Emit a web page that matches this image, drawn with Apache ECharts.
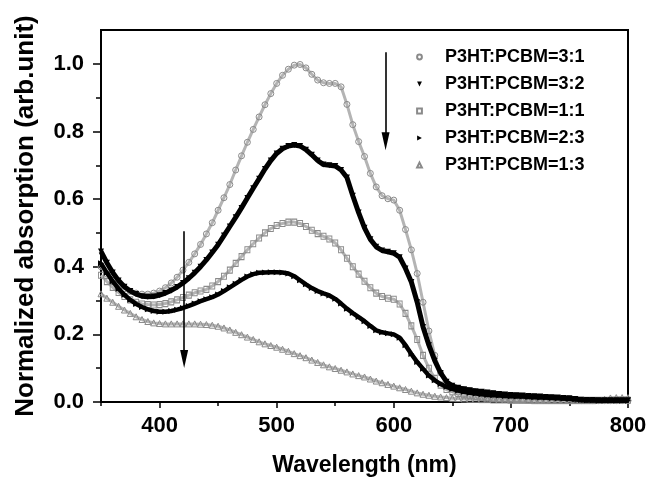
<!DOCTYPE html>
<html>
<head>
<meta charset="utf-8">
<script src="https://cdn.jsdelivr.net/npm/echarts@6/dist/echarts.min.js"></script>
<style>
html,body{margin:0;padding:0;background:#fff;}
#chart{width:651px;height:482px;}
</style>
</head>
<body>
<div id="chart"></div>
<script>
// Sampling grid of the spectra (nm)
const wavelength = Array.from({length: 91}, (_, i) => 350 + 5 * i);

const seriesNames = ['P3HT:PCBM=3:1', 'P3HT:PCBM=3:2', 'P3HT:PCBM=1:1', 'P3HT:PCBM=2:3', 'P3HT:PCBM=1:3'];

const ratio31 = [
  0.400,0.378,0.360,0.346,0.335,0.327,0.322,0.319,0.319,0.322,
  0.328,0.338,0.352,0.369,0.390,0.413,0.438,0.466,0.497,0.530,
  0.567,0.604,0.643,0.686,0.728,0.768,0.806,0.843,0.879,0.912,
  0.942,0.966,0.984,0.996,0.998,0.988,0.969,0.952,0.944,0.942,
  0.942,0.932,0.880,0.820,0.770,0.726,0.676,0.636,0.610,0.601,
  0.597,0.567,0.510,0.450,0.380,0.295,0.210,0.138,0.086,0.054,
  0.038,0.029,0.023,0.019,0.016,0.014,0.012,0.011,0.010,0.009,
  0.008,0.008,0.007,0.007,0.006,0.006,0.006,0.005,0.005,0.005,
  0.005,0.005,0.004,0.004,0.004,0.004,0.004,0.004,0.004,0.004,
  0.004];

const ratio32 = [
  0.445,0.412,0.383,0.359,0.341,0.328,0.319,0.313,0.311,0.312,
  0.316,0.322,0.330,0.340,0.352,0.366,0.382,0.400,0.420,0.442,
  0.465,0.492,0.519,0.546,0.574,0.603,0.632,0.660,0.689,0.714,
  0.735,0.749,0.757,0.760,0.757,0.746,0.731,0.714,0.702,0.700,
  0.698,0.686,0.664,0.610,0.560,0.515,0.481,0.459,0.448,0.444,
  0.440,0.428,0.395,0.355,0.295,0.222,0.168,0.122,0.086,0.060,
  0.048,0.042,0.038,0.035,0.032,0.030,0.028,0.026,0.024,0.022,
  0.021,0.020,0.019,0.018,0.017,0.016,0.015,0.014,0.013,0.012,
  0.011,0.009,0.007,0.006,0.006,0.005,0.005,0.005,0.005,0.005,
  0.005];

const ratio11 = [
  0.375,0.356,0.339,0.324,0.312,0.302,0.295,0.290,0.288,0.287,
  0.288,0.291,0.296,0.302,0.309,0.316,0.323,0.328,0.333,0.343,
  0.356,0.372,0.390,0.410,0.430,0.450,0.468,0.485,0.500,0.513,
  0.522,0.528,0.532,0.532,0.528,0.519,0.508,0.498,0.490,0.482,
  0.470,0.450,0.425,0.400,0.378,0.357,0.338,0.322,0.312,0.307,
  0.304,0.290,0.262,0.225,0.185,0.138,0.100,0.070,0.050,0.037,
  0.030,0.025,0.021,0.018,0.016,0.014,0.012,0.011,0.010,0.009,
  0.008,0.007,0.007,0.006,0.006,0.006,0.005,0.005,0.005,0.005,
  0.005,0.005,0.005,0.005,0.005,0.005,0.005,0.005,0.005,0.005,
  0.005];

const ratio23 = [
  0.410,0.382,0.357,0.335,0.317,0.302,0.290,0.281,0.274,0.269,
  0.267,0.267,0.269,0.273,0.278,0.284,0.291,0.298,0.304,0.310,
  0.318,0.328,0.339,0.350,0.361,0.371,0.378,0.382,0.383,0.384,
  0.384,0.383,0.380,0.372,0.360,0.348,0.337,0.328,0.321,0.315,
  0.305,0.291,0.276,0.263,0.251,0.239,0.225,0.212,0.206,0.203,
  0.200,0.190,0.168,0.142,0.118,0.098,0.078,0.064,0.053,0.045,
  0.039,0.034,0.030,0.027,0.025,0.023,0.021,0.020,0.019,0.018,
  0.017,0.016,0.016,0.015,0.014,0.013,0.013,0.012,0.011,0.010,
  0.009,0.008,0.006,0.005,0.005,0.004,0.004,0.004,0.004,0.004,
  0.004];

const ratio13 = [
  0.320,0.307,0.295,0.283,0.272,0.262,0.252,0.244,0.238,0.234,
  0.232,0.231,0.231,0.231,0.231,0.231,0.231,0.230,0.229,0.227,
  0.224,0.219,0.213,0.206,0.199,0.192,0.185,0.178,0.172,0.167,
  0.162,0.156,0.150,0.143,0.137,0.131,0.124,0.117,0.110,0.104,
  0.099,0.094,0.089,0.083,0.078,0.074,0.068,0.062,0.057,0.052,
  0.047,0.042,0.037,0.032,0.027,0.023,0.020,0.017,0.015,0.013,
  0.011,0.010,0.009,0.008,0.008,0.007,0.007,0.006,0.006,0.006,
  0.005,0.005,0.005,0.005,0.004,0.004,0.004,0.004,0.004,0.004,
  0.004,0.004,0.004,0.004,0.004,0.005,0.008,0.012,0.013,0.013,
  0.013];

// Axis ticks
const xMajorTicks = [400, 500, 600, 700, 800];
const xMinorTicks = [350, 450, 550, 650, 750];
const yMajorTicks = [0, 0.2, 0.4, 0.6, 0.8, 1.0];
const yMinorTicks = [0.1, 0.3, 0.5, 0.7, 0.9];

// Arrow annotations (data coordinates)
const arrowX = [593, 421];
const arrowTop = [1.034, 0.505];
const arrowBottom = [0.771, 0.127];

const FONT = '"Liberation Sans", Arial, Helvetica, sans-serif';
const GRAY = '#8a8a8a';
const BLACK = '#000000';

function pairs(vals) { return wavelength.map((w, i) => [w, vals[i]]); }

const arrowPath = 'path://M5,0 L10,30 L0,30 Z';
const arrowData = arrowX.map((x, i) => [
  {coord: [x, arrowTop[i]], symbol: 'none'},
  {coord: [x, arrowBottom[i]], symbol: arrowPath, symbolSize: [8, 18]}
]);

function graySeries(name, vals, symbol, size, extra) {
  return Object.assign({
    name, type: 'line', data: pairs(vals),
    symbol, symbolSize: size, showSymbol: true,
    itemStyle: {color: 'rgba(255,255,255,0)', borderColor: GRAY, borderWidth: 1},
    lineStyle: {color: '#b4b4b4', width: 3},
    z: 2, silent: true
  }, extra || {});
}
function blackSeries(name, vals, symbol, size, rot, lw) {
  return {
    name, type: 'line', data: pairs(vals),
    symbol, symbolSize: size, symbolRotate: rot, showSymbol: true,
    itemStyle: {color: BLACK},
    lineStyle: {color: BLACK, width: lw},
    z: 3, silent: true
  };
}

const option = {
  animation: false,
  backgroundColor: '#fff',
  grid: {left: 101, right: 23, top: 30, bottom: 80, show: true, borderColor: '#000', borderWidth: 2, backgroundColor: 'transparent'},
  legend: {
    orient: 'vertical', left: 410, top: 42,
    data: seriesNames,
    itemWidth: 7, itemHeight: 6, itemGap: 7,
    lineStyle: {opacity: 0},
    textStyle: {fontFamily: FONT, fontSize: 18, fontWeight: 'bold', color: '#000', lineHeight: 20, padding: [0, 0, 0, 17]},
    selectedMode: false
  },
  xAxis: [{
    type: 'value', min: 350, max: 800,
    name: 'Wavelength (nm)', nameLocation: 'middle', nameGap: 52,
    nameTextStyle: {fontFamily: FONT, fontSize: 23, fontWeight: 'bold', color: '#000'},
    axisLine: {show: true, onZero: false, lineStyle: {color: '#000', width: 2}},
    axisTick: {show: true, inside: false, length: 6, customValues: xMajorTicks, lineStyle: {color: '#000', width: 1.5}},
    axisLabel: {customValues: xMajorTicks, margin: 13, fontFamily: FONT, fontSize: 22, fontWeight: 'bold', color: '#000'},
    splitLine: {show: false}
  }, {
    type: 'value', min: 350, max: 800, position: 'bottom',
    axisLine: {show: false},
    axisTick: {show: true, inside: false, length: 4, customValues: xMinorTicks, lineStyle: {color: '#000', width: 1.5}},
    axisLabel: {show: false},
    splitLine: {show: false}
  }],
  yAxis: [{
    type: 'value', min: 0, max: 1.1,
    name: 'Normalized absorption (arb.unit)', nameLocation: 'middle', nameGap: 62,
    nameTextStyle: {fontFamily: FONT, fontSize: 26, fontWeight: 'bold', color: '#000'},
    axisLine: {show: true, onZero: false, lineStyle: {color: '#000', width: 2}},
    axisTick: {show: true, inside: false, length: 8, customValues: yMajorTicks, lineStyle: {color: '#000', width: 1.5}},
    axisLabel: {customValues: yMajorTicks, margin: 17, formatter: v => v.toFixed(1), fontFamily: FONT, fontSize: 22, fontWeight: 'bold', color: '#000'},
    splitLine: {show: false}
  }, {
    type: 'value', min: 0, max: 1.1, position: 'left',
    axisLine: {show: false},
    axisTick: {show: true, inside: false, length: 5, customValues: yMinorTicks, lineStyle: {color: '#000', width: 1.5}},
    axisLabel: {show: false},
    splitLine: {show: false}
  }],
  series: [
    graySeries(seriesNames[0], ratio31, 'circle', 6, {
      markLine: {
        silent: true, animation: false,
        label: {show: false},
        lineStyle: {color: '#000', width: 1.6, type: 'solid'},
        emphasis: {disabled: true},
        data: arrowData
      }
    }),
    graySeries(seriesNames[2], ratio11, 'rect', [5, 6]),
    graySeries(seriesNames[4], ratio13, 'triangle', 6),
    blackSeries(seriesNames[1], ratio32, 'triangle', 6, 180, 5),
    blackSeries(seriesNames[3], ratio23, 'triangle', 6, -90, 4.5)
  ]
};

const chart = echarts.init(document.getElementById('chart'), null, {renderer: 'canvas'});
chart.setOption(option);
</script>
</body>
</html>
